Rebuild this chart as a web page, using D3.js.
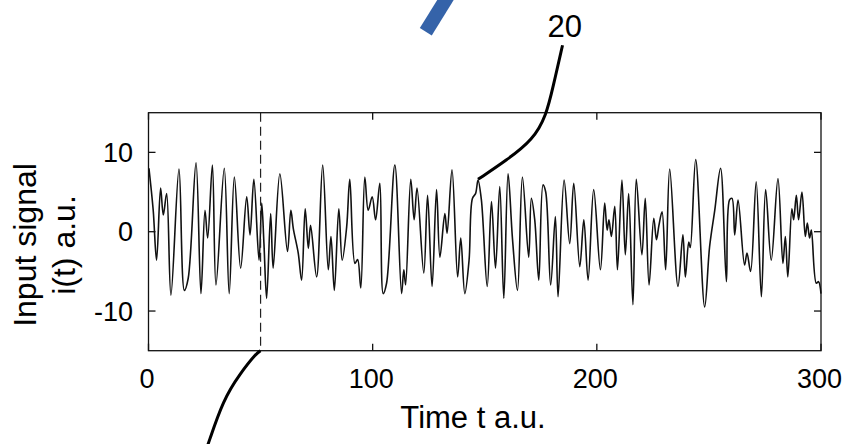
<!DOCTYPE html>
<html>
<head>
<meta charset="utf-8">
<script src="https://cdn.jsdelivr.net/npm/d3@7"></script>
<style>
  body { margin: 0; background: #fff; }
  svg { display: block; font-family: "Liberation Sans", Arial, Helvetica, sans-serif; }
</style>
</head>
<body>
<div id="chart"></div>
<script>
// signal (turning points), time in a.u.
var tempos = [0.2, 2.1, 3.6, 5.4, 6.6, 8.1, 10.0, 13.6, 16.0, 17.7, 21.2, 23.4, 25.2, 26.4, 28.5, 30.1,
  33.8, 36.0, 38.3, 41.1, 43.8, 45.3, 47.0, 49.3, 50.5, 51.5, 52.7, 54.5, 55.6, 58.6, 62.0, 63.5,
  64.6, 66.8, 68.3, 69.9, 71.3, 72.3, 75.0, 77.7, 80.2, 81.4, 82.9, 84.9, 86.4, 88.4, 89.8, 92.1,
  93.3, 94.7, 96.5, 98.0, 99.8, 101.3, 103.2, 104.7, 106.2, 109.9, 112.9, 113.9, 114.7, 117.0, 118.5,
  119.8, 122.8, 124.5, 126.5, 128.5, 130.0, 132.2, 133.2, 135.4, 137.9, 139.3, 141.1, 143.0, 144.5,
  145.9, 147.0, 148.5, 151.1, 153.0, 154.8, 156.7, 158.5, 160.4, 162.4, 164.6, 166.8, 169.6, 170.8,
  172.3, 174.1, 176.0, 177.2, 179.4, 181.5, 182.7, 185.4, 187.9, 189.7, 192.4, 194.2, 196.1, 198.6,
  201.6, 203.5, 204.6, 205.4, 206.5, 208.0, 209.2, 211.2, 212.7, 214.2, 216.1, 217.6, 220.1, 221.6,
  223.3, 225.4, 226.6, 227.7, 229.1, 230.7, 232.5, 236.2, 238.4, 239.5, 241.0, 241.7, 244.1, 248.1,
  250.3, 252.6, 255.2, 257.8, 259.2, 260.3, 261.5, 263.0, 265.9, 267.0, 268.6, 271.1, 273.4, 275.3,
  277.8, 280.8, 283.0, 284.1, 285.2, 287.0, 287.8, 289.0, 290.0, 291.5, 293.0, 293.9, 294.9, 295.7,
  297.9, 298.9, 300.0];

var sinal = [8.0, 2.7, -3.6, 5.5, 2.1, 4.8, -8.0, 7.9, -7.4, -5.9, 8.7, -7.8, 2.7, -0.8, 8.4, -6.7,
  8.0, -7.8, 6.9, -4.6, 4.4, -0.4, 6.6, -3.6, 3.6, -1.5, -8.4, 2.3, -4.6, 7.3, -2.5, 2.7,
  0.4, -2.7, -6.1, 2.9, -2.1, 0.8, -5.7, 8.4, -4.8, -0.6, -7.4, 2.9, -3.6, 0.6, 6.6, -4.0,
  -3.5, -7.1, 6.9, 2.7, 4.4, 1.5, 6.1, -7.8, -6.5, 8.4, -7.8, -4.8, -6.7, 6.6, 1.5,
  5.5, -5.2, 4.6, -6.9, 5.3, -3.2, 2.3, -0.2, 7.8, -5.7, -0.8, -7.8, -3.6, 4.2,
  4.8, 6.5, 4.0, -6.9, 3.8, -4.6, 5.7, -8.4, 7.3, -1.0, -7.4, 6.9, -3.2, 4.2,
  1.5, -6.1, 5.9, 5.0, -6.7, 1.9, -8.2, 6.5, -1.5, 6.1, -4.4, 1.5, -6.1, 5.3,
  -4.8, 3.6, 0.2, 1.5, -0.6, 3.2, -4.8, 6.5, -2.9, 4.8, -9.2, 6.6, -2.9, 4.2,
  -6.7, 1.7, -1.0, 0.8, 2.5, -4.8, 7.9, -6.9, -0.4, -5.7, -1.3, -2.0, 9.1, -9.5,
  -1.9, 2.7, 8.0, -6.3, 4.0, 4.2, -0.4, 4.0, -4.2, -2.7, -5.0, 6.3, -8.2, 5.3,
  -3.6, 6.7, -4.0, -0.6, -5.7, 2.9, 1.5, 4.6, 1.5, 5.0, -0.6, 1.1, -0.8, 0.2,
  -6.5, -6.3, -7.8];

var ticksX = [0, 100, 200, 300];
var ticksY = [-10, 0, 10];
var marcaT = 50;          // dashed marker
var rotulo = "20";        // callout label

// callout curves, in data units (t, i)
var caboCima = [[147.0, 6.6], [159.7, 9.0], [171.6, 11.6], [177.5, 14.7], [180.5, 18.3], [184.7, 23.5]];
var caboBaixo = [[50, -15], [48.2, -15.3], [40.8, -17.9], [33.3, -21.2], [26.7, -26.7], [24.7, -28.3]];
var barraAzul = [[123.7, 25.2], [134.0, 29.9]];

!function() {
    var W = 855, H = 444;
    var m = { left: 148.5, right: 821, top: 112.7, bottom: 350.7 };

    var fx = d3.scaleLinear().domain([0, 300]).range([m.left, m.right]);
    var fy = d3.scaleLinear().domain([-15, 15]).range([m.bottom, m.top]);

    var svg = d3.select('#chart').append('svg')
        .attr('width', W)
        .attr('height', H);

    // signal
    var linha = d3.line()
        .x(function(d) { return fx(d[0]); })
        .y(function(d) { return fy(d[1]); })
        .curve(d3.curveCatmullRom.alpha(0.5));

    var pontos = tempos.map(function(t, i) { return [t, sinal[i]]; });

    svg.append('path')
        .datum(pontos)
        .attr('d', linha)
        .attr('fill', 'none')
        .attr('stroke', '#111')
        .attr('stroke-width', 1.6)
        .attr('stroke-linejoin', 'round');

    // dashed marker
    svg.append('line')
        .attr('x1', fx(marcaT)).attr('x2', fx(marcaT))
        .attr('y1', fy(15)).attr('y2', fy(-15))
        .attr('stroke', '#222')
        .attr('stroke-width', 1.2)
        .attr('stroke-dasharray', '9,5');

    // frame
    svg.append('rect')
        .attr('x', m.left).attr('y', m.top)
        .attr('width', m.right - m.left)
        .attr('height', m.bottom - m.top)
        .attr('fill', 'none')
        .attr('stroke', '#111')
        .attr('stroke-width', 1.3);

    var tk = 7;
    var gx = svg.append('g');
    ticksX.forEach(function(t) {
        gx.append('line').attr('x1', fx(t)).attr('x2', fx(t))
            .attr('y1', m.bottom).attr('y2', m.bottom - tk)
            .attr('stroke', '#111').attr('stroke-width', 1.3);
        gx.append('line').attr('x1', fx(t)).attr('x2', fx(t))
            .attr('y1', m.top).attr('y2', m.top + tk)
            .attr('stroke', '#111').attr('stroke-width', 1.3);
        gx.append('text')
            .attr('x', fx(t) - 1.5).attr('y', 388)
            .attr('text-anchor', 'middle')
            .attr('font-size', 27)
            .text(fx.tickFormat()(t));
    });

    var gy = svg.append('g');
    ticksY.forEach(function(v) {
        gy.append('line').attr('x1', m.left).attr('x2', m.left + tk)
            .attr('y1', fy(v)).attr('y2', fy(v))
            .attr('stroke', '#111').attr('stroke-width', 1.3);
        gy.append('line').attr('x1', m.right).attr('x2', m.right - tk)
            .attr('y1', fy(v)).attr('y2', fy(v))
            .attr('stroke', '#111').attr('stroke-width', 1.3);
        gy.append('text')
            .attr('x', 133).attr('y', fy(v))
            .attr('dy', '.36em')
            .attr('text-anchor', 'end')
            .attr('font-size', 27)
            .text(fy.tickFormat()(v).replace('\u2212', '-'));
    });

    // axis titles
    svg.append('text')
        .attr('x', 473).attr('y', 428)
        .attr('text-anchor', 'middle')
        .attr('font-size', 31)
        .text('Time t a.u.');

    var yt = svg.append('text')
        .attr('transform', 'translate(36,245) rotate(-90)')
        .attr('text-anchor', 'middle')
        .attr('font-size', 32);
    yt.append('tspan').attr('x', 0).attr('dy', 0).text('Input signal');
    yt.append('tspan').attr('x', 0).attr('dy', 39).text('i(t) a.u.');

    // callouts
    var cabo = d3.line()
        .x(function(d) { return fx(d[0]); })
        .y(function(d) { return fy(d[1]); })
        .curve(d3.curveBasis);

    svg.append('path').attr('d', cabo(caboCima))
        .attr('fill', 'none').attr('stroke', '#000').attr('stroke-width', 3);
    svg.append('path').attr('d', cabo(caboBaixo))
        .attr('fill', 'none').attr('stroke', '#000').attr('stroke-width', 3);

    svg.append('text')
        .attr('x', fx(185.7)).attr('y', fy(24.55))
        .attr('text-anchor', 'middle')
        .attr('font-size', 31)
        .text(rotulo);

    svg.append('line')
        .attr('x1', fx(barraAzul[0][0])).attr('y1', fy(barraAzul[0][1]))
        .attr('x2', fx(barraAzul[1][0])).attr('y2', fy(barraAzul[1][1]))
        .attr('stroke', '#3563a9')
        .attr('stroke-width', 14);
}();
</script>
</body>
</html>
